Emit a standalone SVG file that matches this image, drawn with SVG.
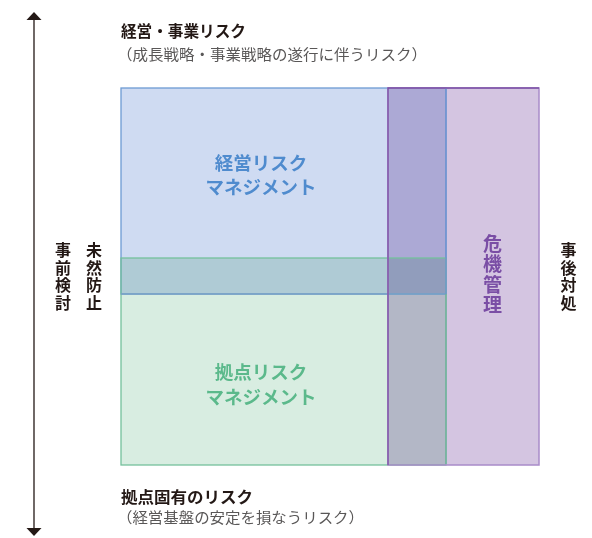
<svg xmlns="http://www.w3.org/2000/svg" width="592" height="538" viewBox="0 0 592 538">
<style>
  text { font-family: "Noto Sans CJK JP", "Noto Sans", sans-serif; }
  .head { font-size: 16px; font-weight: 700; fill: #231815; }
  .sub { font-size: 15px; font-weight: 400; fill: #595757; }
  .side { font-size: 16px; font-weight: 700; fill: #231815; writing-mode: vertical-rl; letter-spacing: 1.5px; }
  .blueT { font-size: 18.5px; font-weight: 700; fill: #4f8bce; text-anchor: middle; }
  .greenT { font-size: 18.5px; font-weight: 700; fill: #5bb98b; text-anchor: middle; }
  .purpT { font-size: 19px; font-weight: 700; fill: #7a4ea5; writing-mode: vertical-rl; letter-spacing: 1.5px; }
  .fill { mix-blend-mode: multiply; stroke: none; }
  .axis { stroke: #231815; stroke-width: 1.3; fill: none; }
</style>

<g id="fills">
  <rect class="fill" x="121" y="88" width="325" height="206" fill="#cfdbf2"/>
  <rect class="fill" x="121" y="258" width="325" height="207" fill="#d8ede1"/>
  <rect class="fill" x="388" y="88" width="151" height="377" fill="#d4c5e1"/>
</g>

<g id="connectors">
  <line class="axis" x1="34" y1="19" x2="34" y2="528"/>
  <polygon points="34,12 26.5,20 41.5,20" fill="#231815"/>
  <polygon points="34,536 26.5,528 41.5,528" fill="#231815"/>
</g>

<g id="node-keiei">
  <rect x="121" y="88" width="325" height="206" fill="none" stroke="#6d9bd3" stroke-width="1.3"/>
  <text class="blueT" x="261" y="170">経営リスク</text>
  <text class="blueT" x="261" y="194">マネジメント</text>
</g>

<g id="node-kyoten">
  <rect x="121" y="258" width="325" height="207" fill="none" stroke="#75c09c" stroke-width="1.3"/>
  <line x1="121" y1="294" x2="446" y2="294" stroke="#78a2c4" stroke-width="1.6"/>
  <text class="greenT" x="261" y="379">拠点リスク</text>
  <text class="greenT" x="261" y="404">マネジメント</text>
</g>

<g id="node-kiki">
  <rect x="388" y="88" width="151" height="377" fill="none" stroke="#a98bc9" stroke-width="1.5"/>
  <polyline points="388,465 388,88 539,88" fill="none" stroke="#7b4fa5" stroke-width="1.3"/>
  <line x1="446" y1="88.7" x2="446" y2="294" stroke="#6d8fd0" stroke-width="1.2"/>
  <line x1="446" y1="294" x2="446" y2="464" stroke="#6fae9a" stroke-width="1.2"/>
  <text class="purpT" x="492.5" y="234">危機管理</text>
</g>

<g id="label-top">
  <text class="head" x="121" y="36.5" textLength="125" lengthAdjust="spacingAndGlyphs">経営・事業リスク</text>
  <text class="sub" x="117" y="59.5" textLength="310" lengthAdjust="spacingAndGlyphs">（成長戦略・事業戦略の遂行に伴うリスク）</text>
</g>

<g id="label-bottom">
  <text class="head" x="121" y="502.5" textLength="132" lengthAdjust="spacingAndGlyphs">拠点固有のリスク</text>
  <text class="sub" x="117" y="522.5" textLength="247" lengthAdjust="spacingAndGlyphs">（経営基盤の安定を損なうリスク）</text>
</g>

<g id="label-mizen">
  <text class="side" x="94" y="242">未然防止</text>
</g>

<g id="label-jizen">
  <text class="side" x="63" y="242">事前検討</text>
</g>

<g id="label-jigo">
  <text class="side" x="568.5" y="242">事後対処</text>
</g>
</svg>
